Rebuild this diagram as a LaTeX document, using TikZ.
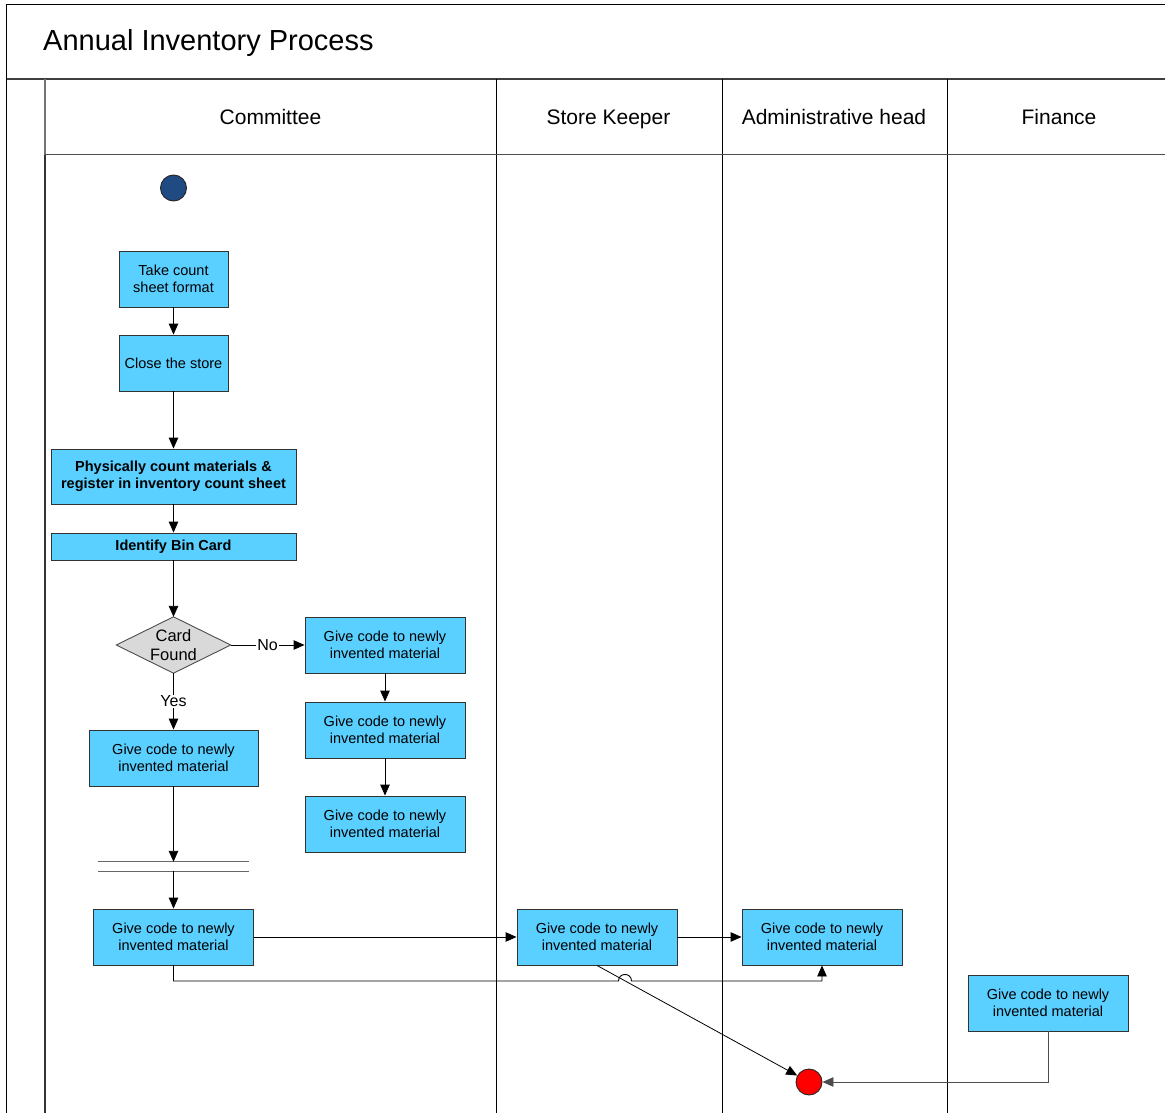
\documentclass[tikz,border=0pt]{standalone}
\usepackage{fontspec}
\setmainfont{Liberation Sans}
\usetikzlibrary{arrows.meta}

\definecolor{boxblue}{RGB}{89,208,255}
\definecolor{startblue}{RGB}{31,74,130}
\definecolor{diagray}{RGB}{217,217,217}

\begin{document}
\begin{tikzpicture}[x=1pt,y=-1pt,
  act/.style={draw=black!80,fill=boxblue,line width=0.9pt,inner sep=0pt,align=center,
    font=\fontsize{14.5}{17.5}\selectfont,minimum width=160pt,minimum height=56pt},
  boldact/.style={act,font=\fontsize{14.5}{17.5}\selectfont\bfseries,minimum width=245pt},
  flow/.style={draw=black,line width=0.9pt,-{Triangle[length=11pt,width=9.5pt]}},
  lane/.style={draw=black,line width=1pt},
  lanehead/.style={anchor=base,font=\fontsize{21}{24}\selectfont},
  cond/.style={fill=white,inner sep=1pt,font=\fontsize{16}{18}\selectfont},
  endpt/.style={circle,draw=black!85,line width=0.9pt,minimum size=26pt,inner sep=0pt}]

\useasboundingbox (0,0) rectangle (1165,1113);
\clip (0,0) rectangle (1165,1113);

% pool frame and title band
\draw[lane] (6.5,1120) -- (6.5,5) -- (1180,5);
\draw[draw=black!75,line width=2pt] (6.5,79) -- (1180,79);
\node[anchor=base west,inner sep=0pt,font=\fontsize{29}{33}\selectfont] (title) at (43,51) {Annual Inventory Process};

% lanes
\draw[draw=black!55,line width=1.2pt] (45,79) -- (45,155);
\draw[draw=black!80,line width=1.4pt] (45,155) -- (45,1120);
\draw[lane] (496,79) -- (496,1120);
\draw[lane] (722,79) -- (722,1120);
\draw[lane] (947,79) -- (947,1120);
\draw[draw=black!70,line width=1pt] (45,155) -- (1180,155);

\node[lanehead] (lcom) at (270.5,124.5) {Committee};
\node[lanehead] (lsto) at (608.5,124.5) {Store Keeper};
\node[lanehead] (ladm) at (834,124.5) {Administrative head};
\node[lanehead] (lfin) at (1059,124.5) {Finance};

% start and end points
\node[endpt,fill=startblue] (start) at (173.5,188) {};
\node[endpt,fill=red] (finish) at (809,1082) {};

% committee activities
\node[act,minimum width=109pt] (take) at (173.5,279) {Take count\\sheet format};
\node[act,minimum width=109pt] (close) at (173.5,363) {Close the store};
\node[boldact,minimum height=55pt] (count) at (173.5,476.5) {Physically count materials \&\\register in inventory count sheet};
\node[boldact,minimum height=27pt] (bin) at (173.5,546.5) {Identify Bin Card};

% decision
\node[minimum width=114pt,minimum height=56pt,inner sep=0pt] (card) at (173.5,645) {};
\draw[draw=black!70,fill=diagray,line width=0.9pt] (card.north) -- (card.east) -- (card.south) -- (card.west) -- cycle;
\node[align=center,font=\fontsize{16.5}{18.5}\selectfont,inner sep=0pt] (cardtxt) at (173.5,645) {Card\\Found};

\node[act] (no1) at (385,645) {Give code to newly\\invented material};
\node[act] (no2) at (385,730) {Give code to newly\\invented material};
\node[act] (no3) at (385,824) {Give code to newly\\invented material};
\node[act,minimum width=169pt] (yes1) at (173.5,758) {Give code to newly\\invented material};

% synchronisation bar
\node[minimum width=151pt,minimum height=9pt,inner sep=0pt] (sync) at (173.5,866.5) {};
\draw[draw=black!60,line width=1.3pt] (sync.north west) -- (sync.north east);
\draw[draw=black!60,line width=1.3pt] (sync.south west) -- (sync.south east);

\node[act] (com) at (173.5,937) {Give code to newly\\invented material};
\node[act] (sto) at (597,937) {Give code to newly\\invented material};
\node[act] (adm) at (822,937) {Give code to newly\\invented material};
\node[act] (fin) at (1048,1003) {Give code to newly\\invented material};

% connectors
\draw[flow] (take) -- (close);
\draw[flow] (close) -- (count);
\draw[flow] (count) -- (bin);
\draw[flow] (bin) -- (card.north);
\draw[flow] (card.east) -- node[cond] (lno) {No} (no1);
\draw[flow] (no1) -- (no2);
\draw[flow] (no2) -- (no3);
\draw[flow] (card.south) -- node[cond] (lyes) {Yes} (yes1);
\draw[flow] (yes1) -- (sync.north);
\draw[flow] (sync.south) -- (com);
\draw[flow] (com) -- (sto);
\draw[flow] (sto) -- (adm);

\coordinate (hopa) at (618.5,981);
\coordinate (hopb) at (631.5,981);
\draw[flow] (com.south) -- (173.5,981) -- (hopa)
  .. controls (618.5,972.3) and (631.5,972.3) .. (hopb)
  -- (822,981) -- (adm.south);
\draw[flow,line width=0.8pt] (sto.south) -- (finish);
\draw[flow,draw=black!70] (fin.south) -- (1048,1082) -- (finish.east);

\end{tikzpicture}
\end{document}
